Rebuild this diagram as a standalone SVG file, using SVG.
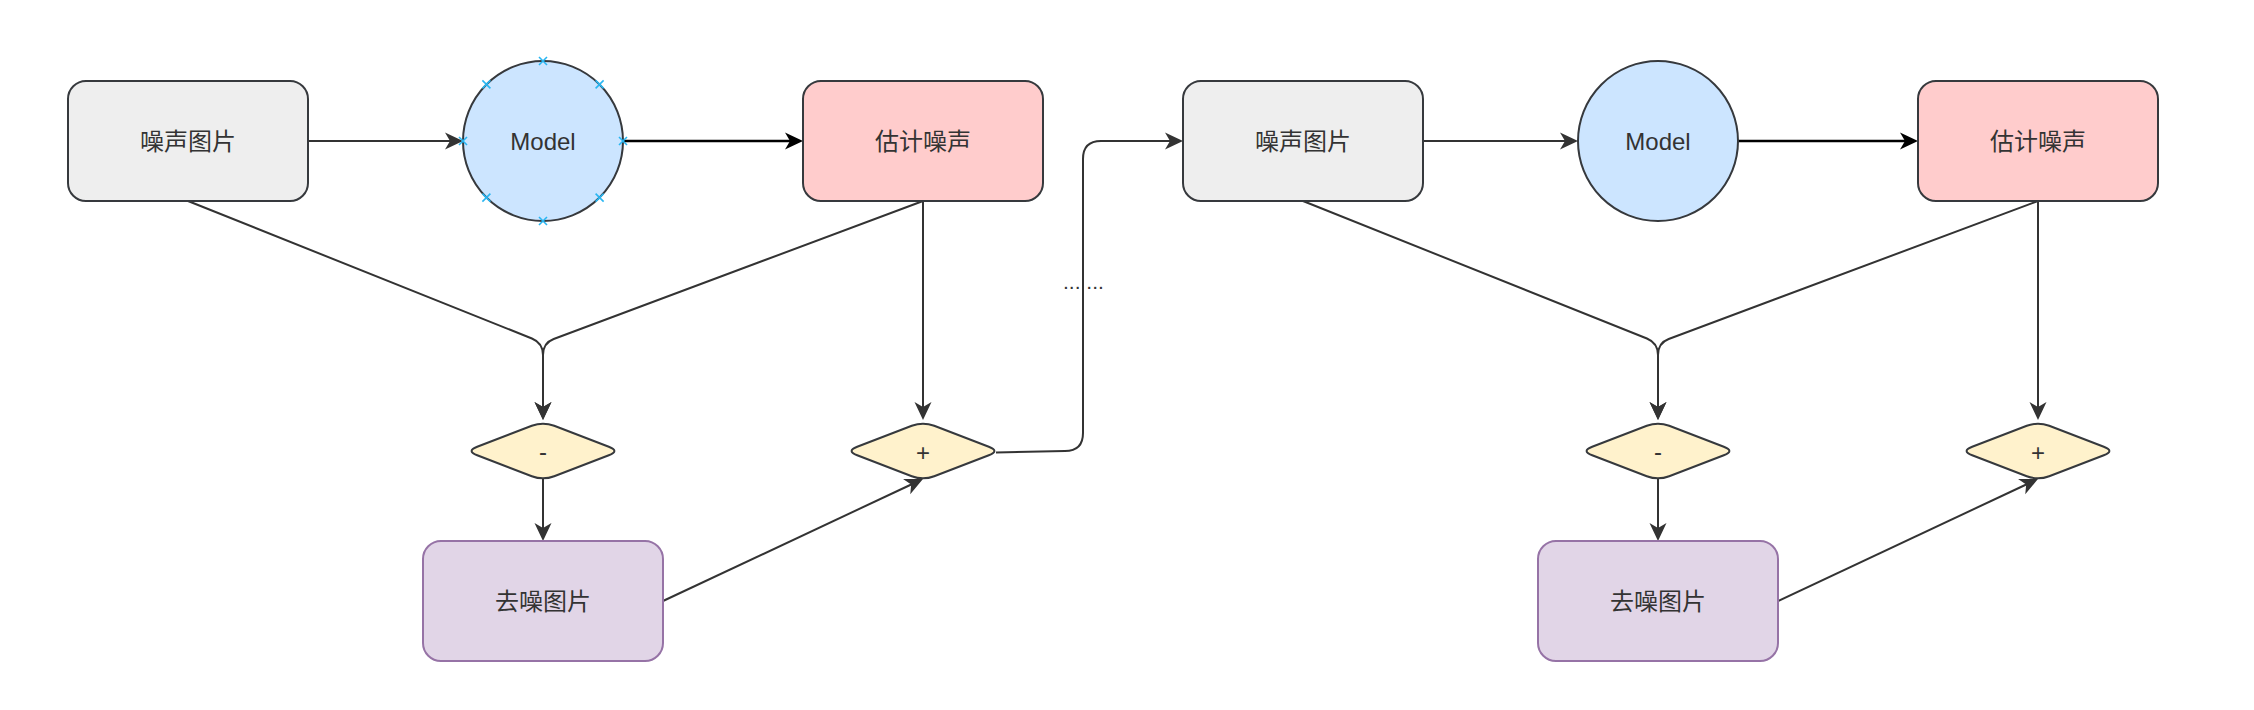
<svg xmlns="http://www.w3.org/2000/svg" xmlns:xlink="http://www.w3.org/1999/xlink" width="2254" height="710" viewBox="0 0 2254 710">
<style>
  .lbl { font-family: "Liberation Sans", "Noto Sans CJK SC", sans-serif; font-size: 24px; fill: #333333; text-anchor: middle; dominant-baseline: central; }
  .gray { fill: #eeeeee; stroke: #36393d; stroke-width: 2; }
  .pink { fill: #ffcccc; stroke: #36393d; stroke-width: 2; }
  .blue { fill: #cce5ff; stroke: #36393d; stroke-width: 2; }
  .purple { fill: #e1d5e7; stroke: #9673a6; stroke-width: 2; }
  .yellow { fill: #fff2cc; stroke: #36393d; stroke-width: 2; }
  .edge { fill: none; stroke: #333333; stroke-width: 2; marker-end: url(#arr); }
  .edge-bold { fill: none; stroke: #000000; stroke-width: 2.5; marker-end: url(#arrB); }
  .hint { fill: none; stroke: #29b6f2; stroke-width: 1.6; }
</style>
<defs>
  <marker id="arr" markerUnits="userSpaceOnUse" markerWidth="18" markerHeight="17" viewBox="0 0 18 17" refX="8" refY="8.5" orient="auto" overflow="visible">
    <path d="M18,8.5 L0,0 L5,8.5 L0,17 Z" fill="#333333"/>
  </marker>
  <marker id="arrB" markerUnits="userSpaceOnUse" markerWidth="18" markerHeight="17" viewBox="0 0 18 17" refX="8" refY="8.5" orient="auto" overflow="visible">
    <path d="M18,8.5 L0,0 L5,8.5 L0,17 Z" fill="#000000"/>
  </marker>
  <path id="dia" d="M -65.8 -4.29 L -11.2 -25.21 Q 0 -29.5 11.2 -25.21 L 65.8 -4.29 Q 77 0 65.8 4.29 L 11.2 25.21 Q 0 29.5 -11.2 25.21 L -65.8 4.29 Q -77 0 -65.8 -4.29 Z"/>
  <path id="x" d="M -4 -4 L 4 4 M -4 4 L 4 -4"/>
</defs>
<rect width="2254" height="710" fill="#ffffff"/>

<g id="connectors">
  <path class="edge" d="M 308 141 L 453 141"/>
  <path class="edge-bold" d="M 623 141 L 793 141"/>
  <path class="edge" d="M 188 201 L 531.9 338.5 Q 543 343 543 355 L 543 410"/>
  <path class="edge" d="M 923 201 L 553.7 339 Q 543 343 543 355 L 543 410"/>
  <path class="edge" d="M 923 201 L 923 410"/>
  <path class="edge" d="M 543 478 L 543 531"/>
  <path class="edge" d="M 663 601 L 913.9 483.25"/>
  <path class="edge" d="M 996 452.5 L 1065 451 Q 1083 451 1083 433 L 1083 159 Q 1083 141 1101 141 L 1173 141"/>
  <path class="edge" d="M 1423 141 L 1568 141"/>
  <path class="edge-bold" d="M 1738 141 L 1908 141"/>
  <path class="edge" d="M 1303 201 L 1646.9 338.5 Q 1658 343 1658 355 L 1658 410"/>
  <path class="edge" d="M 2038 201 L 1668.7 339 Q 1658 343 1658 355 L 1658 410"/>
  <path class="edge" d="M 2038 201 L 2038 410"/>
  <path class="edge" d="M 1658 478 L 1658 531"/>
  <path class="edge" d="M 1778 601 L 2028.9 483.25"/>
  <text x="1083.4" y="289" style="font-family:'Liberation Sans',sans-serif;font-size:21px;fill:#333333;text-anchor:middle;">... ...</text>
</g>

<g id="noisy1">
  <rect class="gray" x="68" y="81" width="240" height="120" rx="18" ry="18"/>
  <text class="lbl" x="188" y="141">噪声图片</text>
</g>
<g id="model1">
  <circle class="blue" cx="543" cy="141" r="80"/>
  <text class="lbl" x="543" y="141">Model</text>
  <g class="hint">
    <use xlink:href="#x" x="543" y="61"/>
    <use xlink:href="#x" x="543" y="221"/>
    <use xlink:href="#x" x="463" y="141"/>
    <use xlink:href="#x" x="623" y="141"/>
    <use xlink:href="#x" x="486.4" y="84.4"/>
    <use xlink:href="#x" x="599.6" y="84.4"/>
    <use xlink:href="#x" x="486.4" y="197.6"/>
    <use xlink:href="#x" x="599.6" y="197.6"/>
  </g>
</g>
<g id="est1">
  <rect class="pink" x="803" y="81" width="240" height="120" rx="18" ry="18"/>
  <text class="lbl" x="923" y="141">估计噪声</text>
</g>
<g id="minus1">
  <use xlink:href="#dia" class="yellow" x="543" y="451"/>
  <text class="lbl" x="543" y="451">-</text>
</g>
<g id="plus1">
  <use xlink:href="#dia" class="yellow" x="923" y="451"/>
  <text class="lbl" x="923" y="452">+</text>
</g>
<g id="denoised1">
  <rect class="purple" x="423" y="541" width="240" height="120" rx="18" ry="18"/>
  <text class="lbl" x="543" y="601">去噪图片</text>
</g>

<g id="noisy2">
  <rect class="gray" x="1183" y="81" width="240" height="120" rx="18" ry="18"/>
  <text class="lbl" x="1303" y="141">噪声图片</text>
</g>
<g id="model2">
  <circle class="blue" cx="1658" cy="141" r="80"/>
  <text class="lbl" x="1658" y="141">Model</text>
</g>
<g id="est2">
  <rect class="pink" x="1918" y="81" width="240" height="120" rx="18" ry="18"/>
  <text class="lbl" x="2038" y="141">估计噪声</text>
</g>
<g id="minus2">
  <use xlink:href="#dia" class="yellow" x="1658" y="451"/>
  <text class="lbl" x="1658" y="451">-</text>
</g>
<g id="plus2">
  <use xlink:href="#dia" class="yellow" x="2038" y="451"/>
  <text class="lbl" x="2038" y="452">+</text>
</g>
<g id="denoised2">
  <rect class="purple" x="1538" y="541" width="240" height="120" rx="18" ry="18"/>
  <text class="lbl" x="1658" y="601">去噪图片</text>
</g>
</svg>
